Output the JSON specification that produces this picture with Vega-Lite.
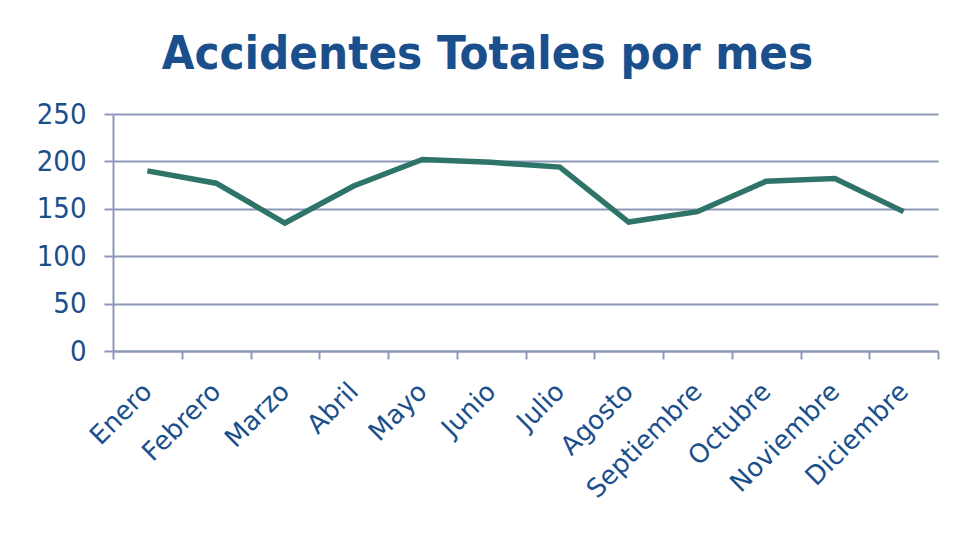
{
  "$schema": "https://vega.github.io/schema/vega-lite/v6.json",
  "width": 825,
  "height": 237,
  "autosize": {"type": "none"},
  "padding": {"left": 113, "top": 114, "right": 16, "bottom": 182},
  "background": "white",
  "title": {
    "text": "Accidentes Totales por mes",
    "font": "DejaVu Sans Condensed",
    "fontSize": 47,
    "fontWeight": "bold",
    "color": "#1A4F8B",
    "anchor": "middle",
    "dx": -38,
    "offset": 21
  },
  "data": {
    "values": [
      {"mes": "Enero", "accidentes": 190},
      {"mes": "Febrero", "accidentes": 177},
      {"mes": "Marzo", "accidentes": 135},
      {"mes": "Abril", "accidentes": 174},
      {"mes": "Mayo", "accidentes": 202},
      {"mes": "Junio", "accidentes": 199},
      {"mes": "Julio", "accidentes": 194},
      {"mes": "Agosto", "accidentes": 136},
      {"mes": "Septiembre", "accidentes": 147},
      {"mes": "Octubre", "accidentes": 179},
      {"mes": "Noviembre", "accidentes": 182},
      {"mes": "Diciembre", "accidentes": 147}
    ]
  },
  "mark": {"type": "line", "color": "#2E7468", "strokeWidth": 5.5, "strokeJoin": "miter"},
  "encoding": {
    "x": {
      "field": "mes",
      "type": "nominal",
      "sort": null,
      "scale": {"type": "band", "paddingInner": 0, "paddingOuter": 0},
      "axis": {
        "title": null,
        "labelAngle": -45,
        "labelAlign": "right",
        "labelBaseline": "middle",
        "labelFont": "DejaVu Sans",
        "labelFontSize": 26,
        "labelColor": "#1A4F8B",
        "labelPadding": 28,
        "labelOverlap": false,
        "tickBand": "extent",
        "tickSize": 8,
        "tickColor": "#8E98B8",
        "tickWidth": 2,
        "domainColor": "#8E98B8",
        "domainWidth": 2,
        "grid": false
      }
    },
    "y": {
      "field": "accidentes",
      "type": "quantitative",
      "scale": {"domain": [0, 250]},
      "axis": {
        "title": null,
        "values": [0, 50, 100, 150, 200, 250],
        "labelFont": "DejaVu Sans Condensed",
        "labelFontSize": 29,
        "labelColor": "#1A4F8B",
        "labelPadding": 18,
        "tickSize": 9,
        "tickColor": "#8E98B8",
        "tickWidth": 2,
        "domainColor": "#8E98B8",
        "domainWidth": 2,
        "grid": true,
        "gridColor": "#8E98B8",
        "gridWidth": 2
      }
    }
  },
  "config": {"view": {"stroke": null}}
}
